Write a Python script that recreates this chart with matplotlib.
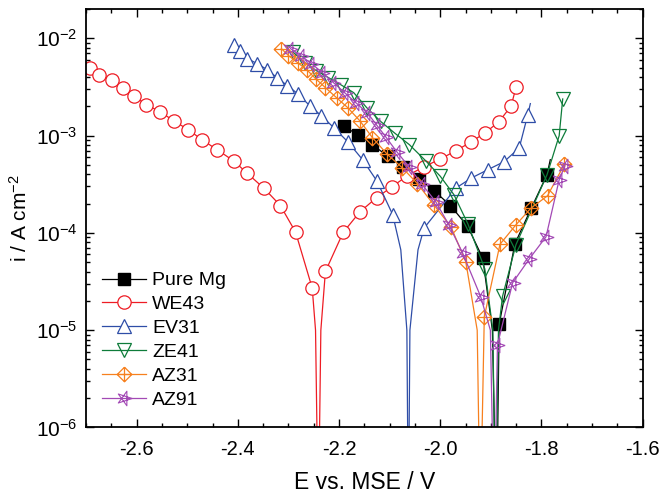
import matplotlib
matplotlib.use("Agg")
import matplotlib.pyplot as plt
from matplotlib.path import Path
from matplotlib.ticker import MultipleLocator, LogLocator, NullFormatter
import numpy as np

plt.rcParams['font.family'] = ['Liberation Sans', 'DejaVu Sans']
plt.rcParams['mathtext.default'] = 'regular'
plt.rcParams['axes.unicode_minus'] = False

# E (V vs. MSE) and i (A cm-2).
# indices in *_plain are line-only points (around Ecorr / end of scan)
mg_E = [-2.191, -2.162, -2.134, -2.104, -2.073, -2.042, -2.0115, -1.980, -1.946, -1.916,
        -1.897, -1.889, -1.8836, -1.8525, -1.820, -1.789, -1.7826]
mg_i = [1.24e-3, 1.02e-3, 8.06e-4, 6.14e-4, 4.75e-4, 3.60e-4, 2.69e-4, 1.91e-4, 1.17e-4, 5.50e-5,
        1.0e-5, 1.0e-7, 1.15e-5, 7.73e-5, 1.80e-4, 3.96e-4, 5.65e-4]
mg_plain = [10, 11, 16]

we43_E = [-2.692, -2.674, -2.648, -2.627, -2.606, -2.581, -2.553, -2.526, -2.498, -2.471,
          -2.441, -2.408, -2.382, -2.348, -2.316, -2.286, -2.253, -2.2465, -2.241, -2.236,
          -2.227, -2.192, -2.159, -2.126, -2.096, -2.065, -2.032, -2.000, -1.969, -1.940,
          -1.911, -1.884, -1.860, -1.850]
we43_i = [4.96e-3, 4.23e-3, 3.76e-3, 3.06e-3, 2.57e-3, 2.08e-3, 1.75e-3, 1.41e-3, 1.15e-3, 9.07e-4,
          7.16e-4, 5.48e-4, 4.12e-4, 2.86e-4, 1.91e-4, 1.02e-4, 2.70e-5, 1.0e-5, 1.0e-7, 1.0e-5,
          4.01e-5, 1.01e-4, 1.64e-4, 2.30e-4, 2.96e-4, 3.87e-4, 4.79e-4, 5.74e-4, 6.99e-4, 8.55e-4,
          1.07e-3, 1.39e-3, 2.01e-3, 3.18e-3]
we43_plain = [17, 18, 19]

ev31_E = [-2.407, -2.395, -2.381, -2.362, -2.342, -2.322, -2.302, -2.282, -2.258, -2.235,
          -2.210, -2.182, -2.1535, -2.125, -2.094, -2.078, -2.066, -2.063, -2.060, -2.044,
          -2.032, -1.969, -1.9386, -1.906, -1.874, -1.844, -1.827, -1.822]
ev31_i = [8.61e-3, 7.35e-3, 6.18e-3, 5.49e-3, 4.76e-3, 3.91e-3, 3.26e-3, 2.70e-3, 2.03e-3, 1.60e-3,
          1.20e-3, 8.55e-4, 5.65e-4, 3.40e-4, 1.54e-4, 6.70e-5, 1.0e-5, 1.0e-7, 1.0e-5, 6.70e-5,
          1.12e-4, 2.89e-4, 3.66e-4, 4.46e-4, 5.39e-4, 7.45e-4, 1.64e-3, 2.13e-3]
ev31_plain = [15, 16, 17, 18, 19, 27]

ze41_E = [-2.292, -2.268, -2.245, -2.221, -2.197, -2.171, -2.1455, -2.118, -2.090, -2.061,
          -2.029, -2.000, -1.973, -1.9455, -1.912, -1.896, -1.891, -1.885, -1.877, -1.8505,
          -1.789, -1.765, -1.758]
ze41_i = [7.30e-3, 5.62e-3, 4.65e-3, 3.94e-3, 3.34e-3, 2.76e-3, 1.94e-3, 1.40e-3, 1.06e-3, 8.06e-4,
          5.52e-4, 3.82e-4, 2.47e-4, 1.24e-4, 4.27e-5, 1.0e-5, 1.0e-7, 1.0e-5, 2.22e-5, 7.54e-5,
          3.96e-4, 9.98e-4, 2.38e-3]
ze41_plain = [15, 16, 17]

az31_E = [-2.314, -2.300, -2.282, -2.264, -2.2465, -2.227, -2.205, -2.183, -2.159, -2.134,
          -2.105, -2.075, -2.045, -2.013, -1.979, -1.9495, -1.927, -1.921, -1.913, -1.882,
          -1.8505, -1.821, -1.788, -1.7545]
az31_i = [7.83e-3, 6.64e-3, 5.62e-3, 4.76e-3, 3.85e-3, 3.11e-3, 2.45e-3, 1.94e-3, 1.42e-3, 9.51e-4,
          6.44e-4, 4.67e-4, 3.20e-4, 1.95e-4, 1.16e-4, 5.04e-5, 1.0e-5, 1.0e-7, 1.37e-5, 7.63e-5,
          1.21e-4, 1.79e-4, 2.41e-4, 5.08e-4]
az31_plain = [16, 17]

az91_E = [-2.296, -2.276, -2.2545, -2.233, -2.211, -2.189, -2.167, -2.144, -2.126, -2.108,
          -2.086, -2.062, -2.037, -2.009, -1.983, -1.956, -1.920, -1.901, -1.8935, -1.887,
          -1.857, -1.824, -1.791, -1.765, -1.7535]
az91_i = [7.83e-3, 6.64e-3, 5.49e-3, 4.44e-3, 3.50e-3, 2.76e-3, 2.18e-3, 1.71e-3, 1.29e-3, 9.74e-4,
          6.83e-4, 4.79e-4, 3.20e-4, 2.09e-4, 1.21e-4, 6.24e-5, 2.20e-5, 1.0e-5, 1.0e-7, 7.06e-6,
          3.07e-5, 5.41e-5, 9.12e-5, 3.52e-4, 4.90e-4]
az91_plain = [17, 18]

# custom symbols: diamond with cross, and open star pointing right
M, L = Path.MOVETO, Path.LINETO
diamond_cross = Path([(0, 1), (1, 0), (0, -1), (-1, 0), (0, 1), (0, 1), (0, -1), (-1, 0), (1, 0)],
                     [M, L, L, L, L, M, L, M, L])
ang = np.deg2rad([0, 144, 288, 72, 216, 0])
star = Path(np.column_stack([np.cos(ang), np.sin(ang)]), [M, L, L, L, L, L])


def marks(E, plain):
    return [k for k in range(len(E)) if k not in plain]


fig = plt.figure(figsize=(6.62, 4.99), dpi=100)
ax = fig.add_axes([0.130, 0.1433, 0.8408, 0.8387])

lw = 0.9
ax.plot(mg_E, mg_i, color='black', lw=lw, marker='s', ms=8.4, mfc='black', mec='black',
        markevery=marks(mg_E, mg_plain), label='Pure Mg')
ax.plot(we43_E, we43_i, color='#EE1C24', lw=lw, marker='o', ms=9.6, mfc='white', mec='#EE1C24',
        mew=0.9, markevery=marks(we43_E, we43_plain), label='WE43')
ax.plot(ev31_E, ev31_i, color='#2E4DA7', lw=lw, marker='^', ms=9.6, mfc='white', mec='#2E4DA7',
        mew=0.9, markevery=marks(ev31_E, ev31_plain), label='EV31')
ax.plot(ze41_E, ze41_i, color='#0E7C3A', lw=lw, marker='v', ms=9.6, mfc='none', mec='#0E7C3A',
        mew=0.9, markevery=marks(ze41_E, ze41_plain), label='ZE41')
ax.plot(az31_E, az31_i, color='#F7801E', lw=lw, marker=diamond_cross, ms=10.5, mfc='none',
        mec='#F7801E', mew=0.9, markevery=marks(az31_E, az31_plain), label='AZ31')
ax.plot(az91_E, az91_i, color='#A349B5', lw=lw, marker=star, ms=11, mfc='none', mec='#A349B5',
        mew=0.8, markevery=marks(az91_E, az91_plain), label='AZ91')

ax.set_yscale('log')
ax.set_xlim(-2.7, -1.6)
ax.set_ylim(1e-6, 2e-2)
ax.xaxis.set_major_locator(MultipleLocator(0.2))
ax.xaxis.set_minor_locator(MultipleLocator(0.05))
ax.yaxis.set_major_locator(LogLocator(base=10, numticks=10))
ax.yaxis.set_minor_locator(LogLocator(base=10, subs=np.arange(2, 10), numticks=20))
ax.yaxis.set_minor_formatter(NullFormatter())

ax.tick_params(which='both', direction='in', top=True, right=True, width=1.0)
ax.tick_params(which='major', length=5.5)
ax.tick_params(which='minor', length=3)
ax.tick_params(axis='x', labelsize=14.5, pad=9)
ax.tick_params(axis='y', labelsize=15, pad=6)
for s in ax.spines.values():
    s.set_linewidth(1.3)

ax.set_xlabel('E vs. MSE / V', fontsize=16.5, labelpad=9)
ax.set_ylabel('i / A cm$^{-2}$', fontsize=15, labelpad=4)

ax.legend(loc='upper left', bbox_to_anchor=(0.028, 0.372), frameon=False, fontsize=14,
          handlelength=2.3, handletextpad=0.3, labelspacing=0.32, borderpad=0,
          borderaxespad=0, numpoints=1)

fig.savefig('out.png', dpi=100)
